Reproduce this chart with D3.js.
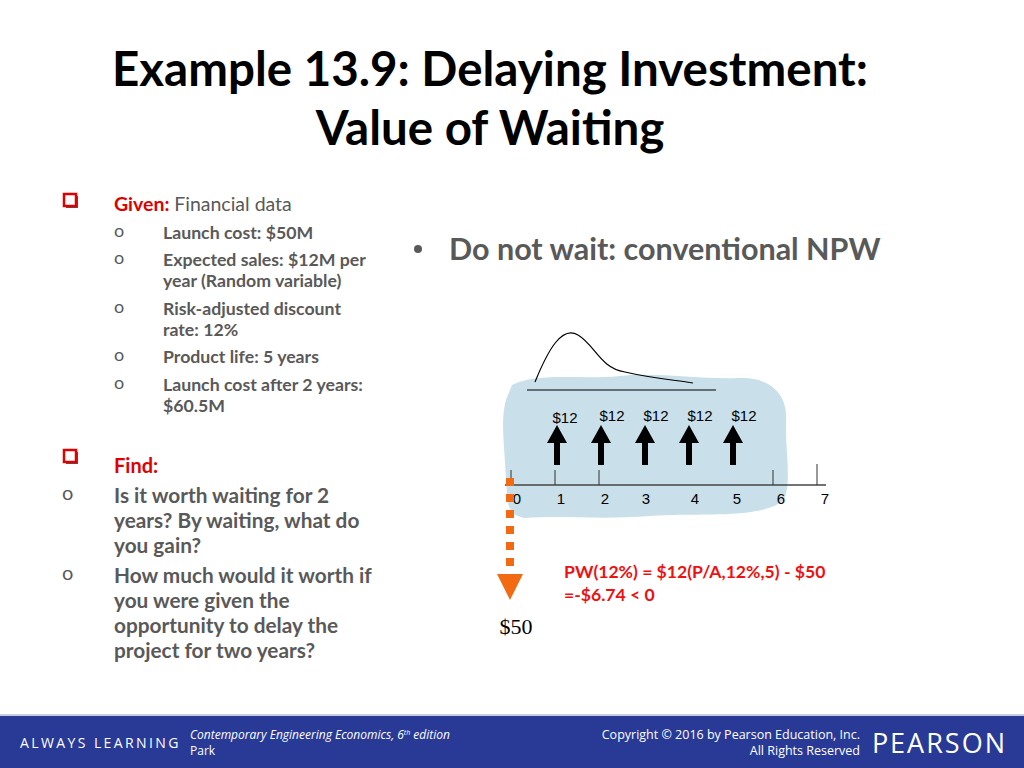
<!DOCTYPE html>
<html><head><meta charset="utf-8">
<script src="https://cdn.jsdelivr.net/npm/d3@7"></script>
<style>body{margin:0;background:#fff}svg{display:block}</style>
</head><body><svg id="s"></svg>
<script>
const periods = [0, 1, 2, 3, 4, 5, 6, 7];
const inflowPeriods = [1, 2, 3, 4, 5];
const inflowValues = [12, 12, 12, 12, 12];
const outflowPeriod = 0;
const outflowValue = 50;
const tallTicks = [0, 1, 2, 6, 7];

const width = 1024, height = 768;
const svg = d3.select('#s').attr('width', width).attr('height', height)
  .style('font-family', 'Lato, "Open Sans", sans-serif');

// title
svg.append('text').attr('x', 490).attr('y', 86).attr('text-anchor', 'middle')
  .attr('font-size', 47.5).attr('font-weight', 'bold').text('Example 13.9: Delaying Investment:');
svg.append('text').attr('x', 490).attr('y', 145).attr('text-anchor', 'middle')
  .attr('font-size', 47.5).attr('font-weight', 'bold').text('Value of Waiting');

// left bullets
const grey = '#595959', red = '#e00000';
function box(y) {
  svg.append('rect').attr('x', 66).attr('y', y - 11).attr('width', 12).attr('height', 12).attr('fill', '#555');
  svg.append('rect').attr('x', 64).attr('y', y - 13).attr('width', 12).attr('height', 12)
    .attr('fill', '#fff').attr('stroke', red).attr('stroke-width', 2.5);
}
box(207);
let t = svg.append('text').attr('x', 114).attr('y', 211).attr('font-size', 19.5).attr('font-weight', 'bold');
t.append('tspan').attr('fill', red).text('Given: ');
t.append('tspan').attr('fill', grey).attr('font-weight', 'normal').text('Financial data');

const subs = [
  ['Launch cost: $50M'],
  ['Expected sales: $12M per', 'year (Random variable)'],
  ['Risk-adjusted discount', 'rate: 12%'],
  ['Product life: 5 years'],
  ['Launch cost after 2 years:', '$60.5M']
];
const subY = [239, 266, 315, 363, 391];
subs.forEach((lines, i) => {
  svg.append('text').attr('x', 114).attr('y', subY[i] - 2).attr('font-size', 18).attr('fill', grey).text('o');
  lines.forEach((l, j) => svg.append('text').attr('x', 163).attr('y', subY[i] + j * 21)
    .attr('font-size', 17.7).attr('font-weight', 'bold').attr('fill', grey).text(l));
});

box(463);
svg.append('text').attr('x', 114).attr('y', 473).attr('font-size', 20).attr('font-weight', 'bold')
  .attr('fill', red).text('Find:');
const finds = [
  ['Is it worth waiting for 2', 'years? By waiting, what do', 'you gain?'],
  ['How much would it worth if', 'you were given the', 'opportunity to delay the', 'project for two years?']
];
[503, 583].forEach((y, i) => {
  svg.append('text').attr('x', 62).attr('y', y - 3).attr('font-size', 20).attr('fill', grey).text('o');
  finds[i].forEach((l, j) => svg.append('text').attr('x', 114).attr('y', y + j * 25)
    .attr('font-size', 20.8).attr('font-weight', 'bold').attr('fill', grey).text(l));
});

// right bullet
svg.append('circle').attr('cx', 418).attr('cy', 249).attr('r', 4).attr('fill', grey);
svg.append('text').attr('x', 449).attr('y', 260).attr('font-size', 30.5).attr('font-weight', 'bold')
  .attr('fill', grey).text('Do not wait: conventional NPW');

// cash flow diagram
const x = d3.scaleLinear().domain([0, 7]).range([513, 821]);
const axisY = 485;
const y = d3.scaleLinear().domain([0, 12]).range([axisY - 20, 425]);
const yDown = d3.scaleLinear().domain([0, 50]).range([478, 600]);

svg.append('path')
  .attr('d', 'M512,385 C540,372 580,380 620,376 C660,372 700,380 740,378 C770,377 788,395 786,420 C785,450 792,480 784,500 C760,520 700,512 650,516 C600,520 560,515 525,518 C505,515 508,500 506,480 C505,450 500,420 506,400 Z')
  .attr('fill', '#c9dfe9');

// distribution
svg.append('path').attr('d', 'M535,382 C548,350 562,325 578,335 C595,345 600,368 625,372 C650,378 675,380 693,383')
  .attr('fill', 'none').attr('stroke', '#000').attr('stroke-width', 1.2);
svg.append('line').attr('x1', 527).attr('x2', 716).attr('y1', 390).attr('y2', 390).attr('stroke', '#000').attr('stroke-width', 1.2);

svg.append('line').attr('x1', 505).attr('x2', 826).attr('y1', axisY).attr('y2', axisY).attr('stroke', '#444').attr('stroke-width', 1.5);
svg.selectAll('.tk').data(tallTicks).enter().append('line')
  .attr('x1', d => x(d) + (d > 5 ? -4 : -2)).attr('x2', d => x(d) + (d > 5 ? -4 : -2))
  .attr('y1', d => d === 7 ? 464 : 470).attr('y2', axisY).attr('stroke', '#333');
svg.selectAll('.pl').data(periods).enter().append('text')
  .attr('x', d => x(d) + 4 + (d === 3 ? -3 : d === 4 ? 2 : 0)).attr('y', 504).attr('text-anchor', 'middle')
  .attr('font-family', 'Liberation Sans, Arial').attr('font-size', 15).text(d => d);

inflowPeriods.forEach((p, i) => {
  const cx = x(p), top = y(inflowValues[i]), bot = y(0);
  svg.append('path')
    .attr('d', `M${cx - 3},${bot} L${cx - 3},${top + 18} L${cx - 10},${top + 18} L${cx},${top} L${cx + 10},${top + 18} L${cx + 3},${top + 18} L${cx + 3},${bot} Z`)
    .attr('fill', '#000');
  svg.append('text').attr('x', cx + (i === 0 ? 8 : 11)).attr('y', i === 0 ? 423 : 421).attr('text-anchor', 'middle')
    .attr('font-family', 'Liberation Sans, Arial').attr('font-size', 15).text('$' + inflowValues[i]);
});

// outflow dashed arrow
const ox = x(outflowPeriod) - 3;
svg.append('line').attr('x1', ox).attr('x2', ox).attr('y1', yDown(0)).attr('y2', yDown(50) - 30)
  .attr('stroke', '#f26b12').attr('stroke-width', 8).attr('stroke-dasharray', '8,8');
svg.append('path').attr('d', `M${ox - 13},${yDown(50) - 26} L${ox + 13},${yDown(50) - 26} L${ox},${yDown(50)} Z`).attr('fill', '#f26b12');
svg.append('text').attr('x', ox + 6).attr('y', 634).attr('text-anchor', 'middle')
  .attr('font-family', 'Liberation Serif, serif').attr('font-size', 22).text('$' + outflowValue);

svg.append('text').attr('x', 564).attr('y', 578).attr('font-size', 17.6).attr('font-weight', 'bold').attr('fill', '#f01010')
  .text('PW(12%) = $12(P/A,12%,5) - $50');
svg.append('text').attr('x', 564).attr('y', 601).attr('font-size', 17.6).attr('font-weight', 'bold').attr('fill', '#f01010')
  .text('=-$6.74 < 0');

// footer
svg.append('rect').attr('x', 0).attr('y', 716).attr('width', width).attr('height', 52).attr('fill', '#283a96');
svg.append('rect').attr('x', 0).attr('y', 714).attr('width', width).attr('height', 2).attr('fill', '#c8cbe0');
const ft = (x0, y0, s, txt, opt = {}) => svg.append('text').attr('x', x0).attr('y', y0).attr('font-size', s)
  .attr('fill', '#fff').attr('font-family', '"Open Sans", sans-serif')
  .attr('text-anchor', opt.a || 'start').attr('font-style', opt.i ? 'italic' : null)
  .attr('letter-spacing', opt.ls || null).text(txt);
ft(20, 748, 14, 'ALWAYS LEARNING', { ls: 2.4 });
const ed = ft(190, 739, 12, 'Contemporary Engineering Economics, 6', { i: 1 });
ed.append('tspan').attr('font-size', 7).attr('dy', -4).text('th');
ed.append('tspan').attr('dy', 4).text(' edition');
ft(190, 755, 12, 'Park');
ft(860, 739, 12.5, 'Copyright © 2016 by Pearson Education, Inc.', { a: 'end' });
ft(860, 755, 12.5, 'All Rights Reserved', { a: 'end' });
ft(1007, 753, 27, 'PEARSON', { a: 'end', ls: 2 });
</script></body></html>
